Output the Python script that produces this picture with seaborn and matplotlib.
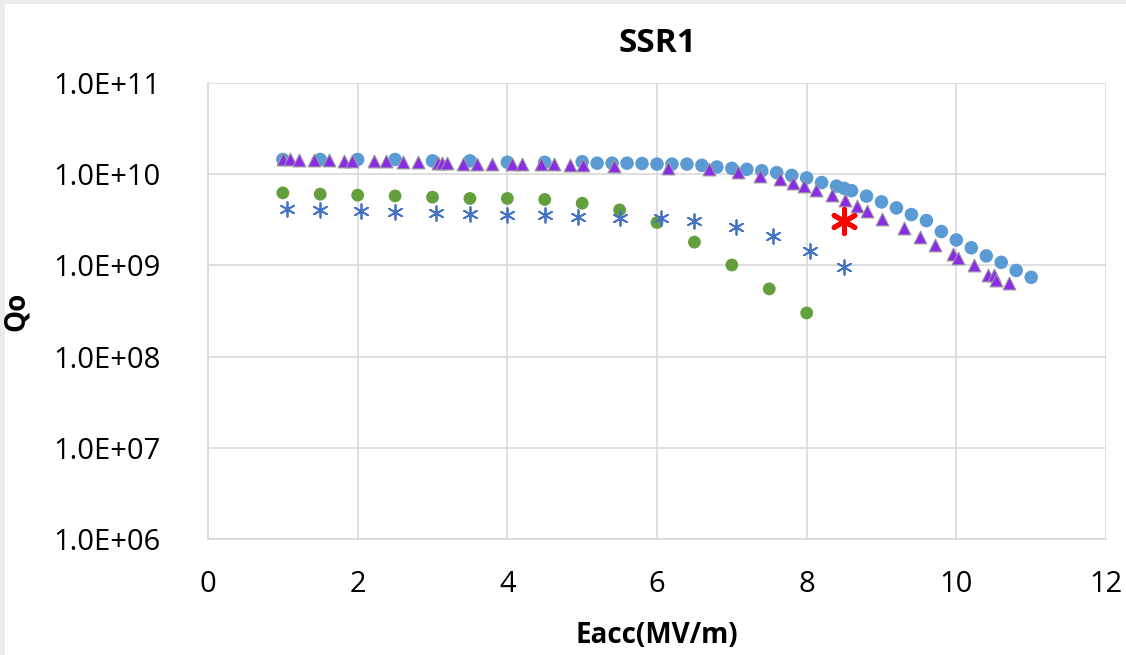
import matplotlib
matplotlib.use("Agg")
import matplotlib.pyplot as plt
import matplotlib.ticker as mticker
import seaborn as sns
import pandas as pd

# ---- data ----
circ_x = [1.0, 1.5, 2.0, 2.5, 3.0, 3.5, 4.0, 4.5, 5.0, 5.2, 5.4, 5.6, 5.8, 6.0, 6.2, 6.4, 6.6, 6.8,
          7.0, 7.2, 7.4, 7.6, 7.8, 8.0, 8.2, 8.4, 8.5, 8.6, 8.8, 9.0, 9.2, 9.4, 9.6, 9.8, 10.0,
          10.2, 10.4, 10.6, 10.8, 11.0]
circ_q = [1.45e10, 1.45e10, 1.45e10, 1.45e10, 1.40e10, 1.40e10, 1.35e10, 1.35e10, 1.37e10, 1.32e10,
          1.32e10, 1.32e10, 1.31e10, 1.29e10, 1.29e10, 1.29e10, 1.25e10, 1.20e10, 1.16e10, 1.13e10,
          1.09e10, 1.04e10, 9.7e9, 9.1e9, 8.1e9, 7.4e9, 7.0e9, 6.6e9, 5.75e9, 4.97e9, 4.27e9,
          3.61e9, 3.10e9, 2.35e9, 1.90e9, 1.56e9, 1.27e9, 1.08e9, 8.8e8, 7.4e8]

tri_x = [1.0, 1.10, 1.22, 1.41, 1.62, 1.82, 1.93, 2.22, 2.38, 2.60, 2.80, 3.07, 3.13, 3.20, 3.41,
         3.59, 3.80, 4.06, 4.20, 4.45, 4.63, 4.84, 5.01, 5.43, 6.15, 6.70, 7.08, 7.37, 7.65, 7.82,
         7.97, 8.13, 8.34, 8.51, 8.67, 8.81, 9.01, 9.30, 9.52, 9.72, 9.96, 10.02, 10.23, 10.42,
         10.50, 10.53, 10.70]
tri_q = [1.45e10, 1.45e10, 1.43e10, 1.42e10, 1.42e10, 1.40e10, 1.38e10, 1.38e10, 1.38e10, 1.36e10,
         1.36e10, 1.33e10, 1.33e10, 1.33e10, 1.31e10, 1.31e10, 1.30e10, 1.30e10, 1.29e10, 1.28e10,
         1.28e10, 1.27e10, 1.25e10, 1.22e10, 1.17e10, 1.13e10, 1.05e10, 9.6e9, 8.8e9, 8.1e9,
         7.45e9, 6.7e9, 5.85e9, 5.2e9, 4.46e9, 3.96e9, 3.21e9, 2.58e9, 2.05e9, 1.66e9, 1.35e9,
         1.22e9, 1.0e9, 7.75e8, 7.75e8, 7.0e8, 6.34e8]

green_x = [1.0, 1.5, 2.0, 2.5, 3.0, 3.5, 4.0, 4.5, 5.0, 5.5, 6.0, 6.5, 7.0, 7.5, 8.0]
green_q = [6.24e9, 6.04e9, 5.89e9, 5.78e9, 5.60e9, 5.42e9, 5.42e9, 5.28e9, 4.81e9, 4.06e9,
           2.95e9, 1.80e9, 1.01e9, 5.53e8, 3.01e8]

star_x = [1.05, 1.5, 2.05, 2.5, 3.05, 3.5, 4.0, 4.5, 4.95, 5.5, 6.05, 6.5, 7.05, 7.55, 8.05, 8.5]
star_q = [4.13e9, 4.03e9, 3.90e9, 3.83e9, 3.73e9, 3.64e9, 3.58e9, 3.58e9, 3.40e9, 3.32e9,
          3.27e9, 3.03e9, 2.61e9, 2.09e9, 1.44e9, 9.6e8]

red_x = [8.5]
red_q = [3.1e9]

title = "SSR1"
xlabel = "Eacc(MV/m)"
ylabel = "Qo"
xticks = [0, 2, 4, 6, 8, 10, 12]
yticks = [1e6, 1e7, 1e8, 1e9, 1e10, 1e11]
ytick_labels = ["1.0E+06", "1.0E+07", "1.0E+08", "1.0E+09", "1.0E+10", "1.0E+11"]

# ---- style ----
sns.set_style("white")
plt.rcParams["font.family"] = ["Open Sans", "DejaVu Sans"]
plt.rcParams["text.color"] = "black"
plt.rcParams["axes.labelcolor"] = "black"

fig = plt.figure(figsize=(11.26, 6.55), dpi=100)
fig.patch.set_facecolor("#ececec")
# white card behind everything
bg = fig.add_axes([5 / 1126, 0, 1 - 5 / 1126, 1 - 4 / 655], zorder=-5)
bg.set_facecolor("white")
bg.set_xticks([])
bg.set_yticks([])
for s in bg.spines.values():
    s.set_visible(False)

ax = fig.add_axes([208 / 1126, 1 - 539 / 655, (1106 - 208) / 1126, (539 - 83) / 655], zorder=1)
ax.set_facecolor("white")
ax.set_yscale("log")

grid_c = "#d9d9d9"
ax.grid(True, which="major", color=grid_c, linewidth=1.2, zorder=0)
ax.set_axisbelow(True)

green_df = pd.DataFrame({"x": green_x, "q": green_q})
star_df = pd.DataFrame({"x": star_x, "q": star_q})
circ_df = pd.DataFrame({"x": circ_x, "q": circ_q})
tri_df = pd.DataFrame({"x": tri_x, "q": tri_q})
red_df = pd.DataFrame({"x": red_x, "q": red_q})

sns.scatterplot(data=green_df, x="x", y="q", ax=ax, marker="o", s=85, color="#63A03D",
                edgecolor="none", zorder=3)
sns.scatterplot(data=star_df, x="x", y="q", ax=ax, marker=(6, 2, 0), s=110, color="#4472C4",
                linewidth=1.3, zorder=3)
sns.scatterplot(data=circ_df, x="x", y="q", ax=ax, marker="o", s=95, color="#5B9BD5",
                edgecolor="none", zorder=4)
sns.scatterplot(data=tri_df, x="x", y="q", ax=ax, marker="^", s=85, color="#8B2BE8",
                edgecolor="#9a9a9a", linewidth=0.8, zorder=5)
sns.scatterplot(data=red_df, x="x", y="q", ax=ax, marker=(6, 2, 0), s=300, color="#FF0000",
                linewidth=3.5, zorder=6)

ax.set_xlim(0, 12)
ax.set_ylim(1e6, 1e11)
ax.set_xticks(xticks)
ax.set_xticklabels([str(t) for t in xticks])
ax.yaxis.set_major_locator(mticker.FixedLocator(yticks))
ax.yaxis.set_minor_locator(mticker.NullLocator())
ax.set_yticklabels(ytick_labels)
ax.tick_params(axis="both", length=0, labelsize=21, colors="black")
ax.tick_params(axis="x", pad=22)
ax.tick_params(axis="y", pad=34)

for s in ["top", "right"]:
    ax.spines[s].set_visible(False)
for s in ["left", "bottom"]:
    ax.spines[s].set_color(grid_c)
    ax.spines[s].set_linewidth(1.2)

ax.set_xlabel(xlabel, fontsize=20, fontweight="bold", labelpad=16, color="black")
ax.set_ylabel(ylabel, fontsize=20, fontweight="bold", labelpad=16, color="black")
ax.set_title(title, fontsize=24, fontweight="bold", pad=22, color="black")

fig.savefig("out.png", dpi=100, facecolor=fig.get_facecolor())
